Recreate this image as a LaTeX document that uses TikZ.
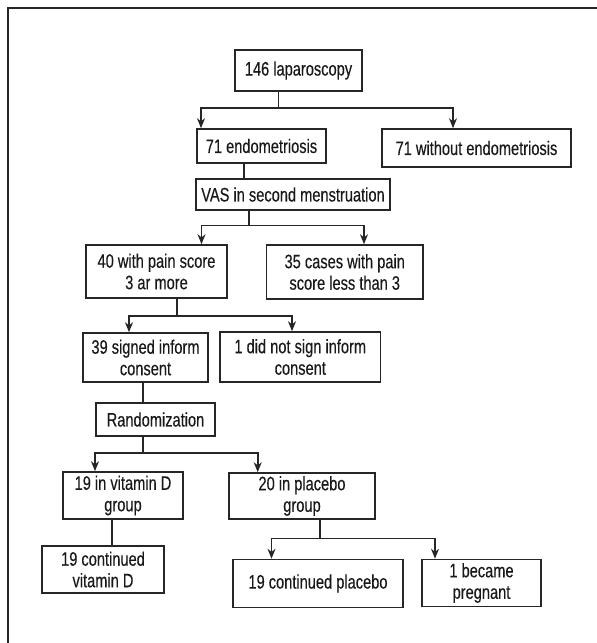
\documentclass[tikz,border=0pt]{standalone}
\usepackage{fontspec}
\setmainfont[FakeStretch=0.75, FakeBold=0.3]{Liberation Sans}
\usetikzlibrary{arrows.meta}

\begin{document}
\begin{tikzpicture}[x=1pt, y=-1pt,
    box/.style={draw=black!85, line width=1.6pt, text=black!90, align=center,
        inner sep=0pt, font=\fontsize{19.5}{21.5}\selectfont},
    link/.style={draw=black!85, line width=1.6pt},
    arr/.style={link, -{Stealth[length=10pt, width=8pt]}}]
            \useasboundingbox (0,0) rectangle (597,643);
            \draw[link] (8,643) -- (8,8) -- (597,8);

            \node[box, minimum width=127pt, minimum height=41pt] (lap) at (298.5,70.5) {146 laparoscopy};
            \node[box, minimum width=129pt, minimum height=34pt] (endo) at (261.5,146) {71 endometriosis};
            \node[box, minimum width=189pt, minimum height=38pt] (noendo) at (476.5,148) {71 without endometriosis};
            \node[box, minimum width=194pt, minimum height=31pt] (vas) at (293,194.5) {VAS in second menstruation};

            \node[box, minimum width=141pt, minimum height=53pt] (pain) at (156.5,271.5) {40 with pain score\\3 ar more};
            \node[box, minimum width=156.5pt, minimum height=54pt] (lowpain) at (344.75,272) {35 cases with pain\\score less than 3};
            \node[box, minimum width=125pt, minimum height=49pt] (signed) at (145.5,357.5) {39 signed inform\\consent};
            \node[box, minimum width=160.6pt, minimum height=50pt] (nosign) at (300.3,357) {1 did not sign inform\\consent};
            \node[box, minimum width=119pt, minimum height=33pt] (rand) at (155.5,419.5) {Randomization};

            \node[box, minimum width=120pt, minimum height=47pt] (vitd) at (123,495.5) {19 in vitamin D\\group};
            \node[box, minimum width=146pt, minimum height=46pt] (plac) at (302,496) {20 in placebo\\group};
            \node[box, minimum width=122pt, minimum height=47pt] (contd) at (103,569.5) {19 continued\\vitamin D};
            \node[box, minimum width=170.5pt, minimum height=48pt] (contp) at (318,583.5) {19 continued placebo};
            \node[box, minimum width=119pt, minimum height=47pt] (preg) at (481.5,583) {1 became\\pregnant};

            % fork below laparoscopy
            \coordinate (f1) at (278.6,108);
            \coordinate (f1l) at (201,0);
            \coordinate (f1r) at (453,0);
            \draw[link] (lap.south -| f1) -- (f1);
            \draw[arr] (f1) -| (endo.north -| f1l);
            \draw[arr] (f1) -| (noendo.north -| f1r);

            \coordinate (e1) at (244,0);
            \draw[link] (endo.south -| e1) -- (vas.north -| e1);

            % fork below VAS
            \coordinate (f2) at (249,225.5);
            \coordinate (f2l) at (201.5,0);
            \coordinate (f2r) at (364,0);
            \draw[link] (vas.south -| f2) -- (f2);
            \draw[arr] (f2) -| (pain.north -| f2l);
            \draw[arr] (f2) -| (lowpain.north -| f2r);

            % fork below pain score
            \coordinate (f3) at (177,316);
            \coordinate (f3l) at (129,0);
            \coordinate (f3r) at (292,0);
            \draw[link] (pain.south -| f3) -- (f3);
            \draw[arr] (f3) -| (signed.north -| f3l);
            \draw[arr] (f3) -| (nosign.north -| f3r);

            \coordinate (s1) at (143,0);
            \draw[link] (signed.south -| s1) -- (rand.north -| s1);

            % fork below randomization
            \coordinate (f4) at (143,453);
            \coordinate (f4l) at (95,0);
            \coordinate (f4r) at (257.7,0);
            \draw[link] (rand.south -| f4) -- (f4);
            \draw[arr] (f4) -| (vitd.north -| f4l);
            \draw[arr] (f4) -| (plac.north -| f4r);

            \coordinate (v1) at (112,0);
            \draw[link] (vitd.south -| v1) -- (contd.north -| v1);

            % fork below placebo
            \coordinate (f5) at (320,538.5);
            \coordinate (f5l) at (271.5,0);
            \coordinate (f5r) at (435,0);
            \draw[link] (plac.south -| f5) -- (f5);
            \draw[arr] (f5) -| (contp.north -| f5l);
            \draw[arr] (f5) -| (preg.north -| f5r);
\end{tikzpicture}
\end{document}
